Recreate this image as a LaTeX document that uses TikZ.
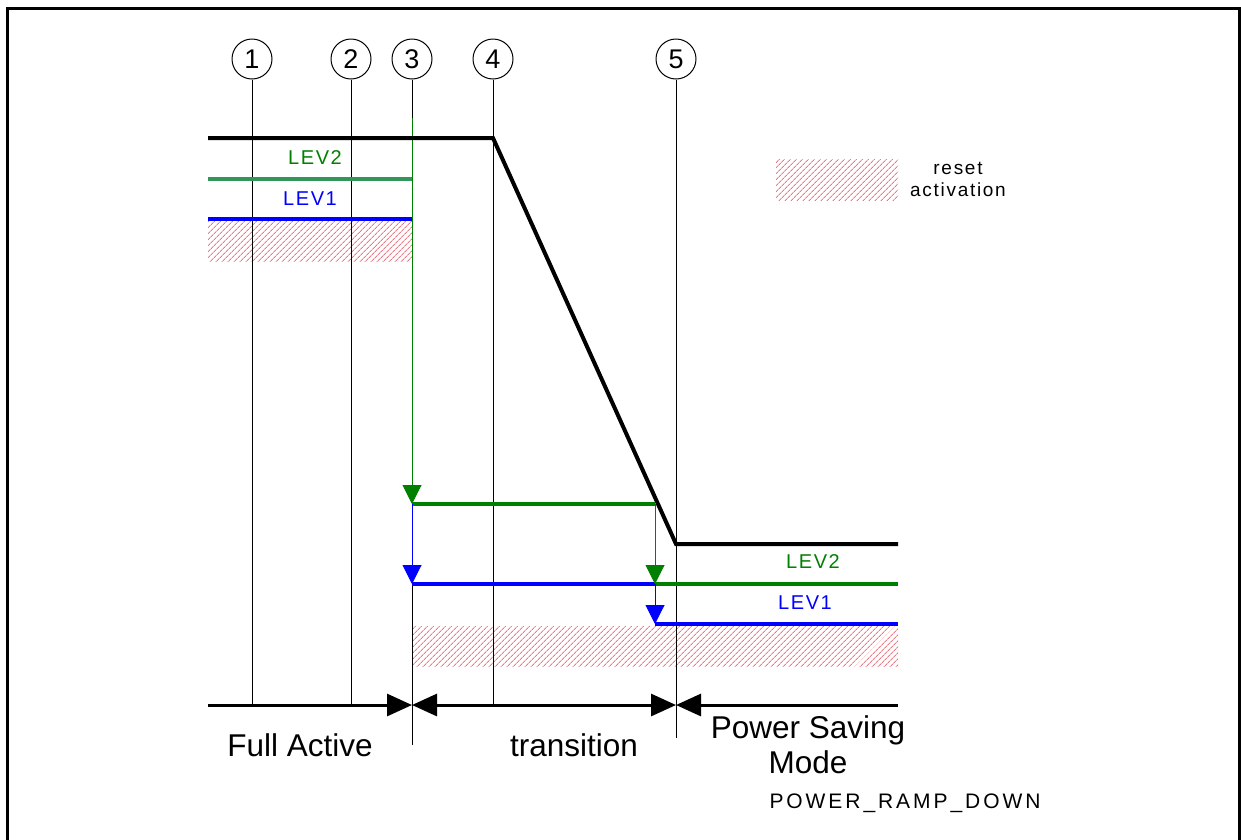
\documentclass[tikz,border=0pt]{standalone}
\usepackage{fontspec}
\setmainfont{Liberation Sans}
\newfontfamily\spacedA[LetterSpace=8]{Liberation Sans}
\newfontfamily\spacedB[LetterSpace=9]{Liberation Sans}
\newfontfamily\spacedC[LetterSpace=14]{Liberation Sans}
\usetikzlibrary{arrows.meta,patterns.meta}
\definecolor{levgreen}{RGB}{0,128,0}
\definecolor{levgreenA}{RGB}{50,150,90}
\definecolor{levblue}{RGB}{0,0,255}
\definecolor{hatchred}{RGB}{240,120,130}
\begin{document}
\begin{tikzpicture}[x=1pt,y=-1pt,
  num/.style={circle,draw,line width=1pt,minimum size=40pt,inner sep=0pt,font=\fontsize{27}{30}\selectfont},
  vline/.style={line width=1pt},
  powerline/.style={line width=4pt,line join=miter},
  levline/.style={line width=3.5pt},
  hatchbox/.style={pattern={Lines[angle=45,distance=4pt,line width=1pt]},pattern color=hatchred},
  vtip/.style={-{Triangle[length=19pt,width=19pt]}},
  axisline/.style={line width=3pt},
  big/.style={font=\fontsize{31.5}{36}\selectfont},
  levlabel/.style={font=\spacedA\fontsize{20}{24}\selectfont},
]
\useasboundingbox (0,0) rectangle (1241,839);
\clip (0,0) rectangle (1241,839);
% frame
\draw[line width=3pt] (7,850) -- (7,8) -- (1239.5,8) -- (1239.5,850);

% hatched regions
\fill[hatchbox] (208,221) rectangle (412,261);
\fill[hatchbox] (412,626) rectangle (898,666);
\fill[hatchbox] (776,159) rectangle (898,200);

% numbered markers
\node[num] (c1) at (252,59) {1};
\node[num] (c2) at (351,59) {2};
\node[num] (c3) at (412,59) {3};
\node[num] (c4) at (493,59) {4};
\node[num] (c5) at (676,59) {5};

% axis coordinates
\coordinate (ax0) at (208,705);
\coordinate (axE) at (898,705);
\coordinate (a3) at (412,705);
\coordinate (a5) at (676,705);
\coordinate (e3) at (412,745);
\coordinate (e5) at (676,738);

% vertical time lines
\draw[vline] (c1.south) -- (c1.south |- ax0);
\draw[vline] (c2.south) -- (c2.south |- ax0);
\draw[vline] (c3.south) -- (e3);
\draw[vline] (c4.south) -- (c4.south |- ax0);
\draw[vline] (c5.south) -- (e5);

% level coordinates
\coordinate (g0) at (208,179);
\coordinate (g1) at (412,179);
\coordinate (b0) at (208,219);
\coordinate (b1) at (412,219);
\coordinate (gs) at (412,118);
\coordinate (gA) at (412,504);
\coordinate (gB) at (655,504);
\coordinate (bA) at (412,584);
\coordinate (gC) at (655,584);
\coordinate (gD) at (898,584);
\coordinate (bC) at (655,624);
\coordinate (bD) at (898,624);

% upper levels
\draw[levline,levgreenA] (g0) -- (g1);
\draw[levline,levblue] (b0) -- (b1);

% transitions
\draw[vline,levgreen,vtip] (gs) -- (gA);
\draw[levline,levgreen] (gA) -- (gB);
\draw[vline,levblue,vtip] (gA) -- (bA);
\draw[levline,levblue] (bA) -- (gC);
\draw[vline,levgreen,vtip] (gB) -- (gC);
\draw[levline,levgreen] (gC) -- (gD);
\draw[vline,levblue,vtip] (gC) -- (bC);
\draw[levline,levblue] (bC) -- (bD);

% supply line
\coordinate (p0) at (208,138);
\coordinate (p1) at (493,138);
\coordinate (p2) at (676,544);
\coordinate (p3) at (898,544);
\draw[powerline] (p0) -- (p1) -- (p2) -- (p3);

% level labels
\node[levlabel,text=levgreen] (l2a) at (315,158) {LEV2};
\node[levlabel,text=levblue] (l1a) at (310,199) {LEV1};
\node[levlabel,text=levgreen] (l2b) at (813,562) {LEV2};
\node[levlabel,text=levblue] (l1b) at (805,603) {LEV1};

% legend
\node[align=center,font=\spacedB\fontsize{19}{22}\selectfont] (leg) at (958,179) {reset\\activation};

% time axis
\draw[axisline,-{Triangle[length=25pt,width=22pt]}] (ax0) -- (a3);
\draw[axisline,{Triangle[length=25pt,width=22pt]}-{Triangle[length=25pt,width=22pt]}] (a3) -- (a5);
\draw[axisline,-{Triangle[length=25pt,width=22pt]}] (axE) -- (a5);

% phase labels
\node[big] (fa) at (300,745) {Full Active};
\node[big] (tr) at (574,745) {transition};
\node[big,align=center,font=\fontsize{31.5}{35}\selectfont] (ps) at (808,745) {Power Saving\\Mode};
\node[font=\spacedC\fontsize{21}{24}\selectfont] (prd) at (905,803) {POWER\_RAMP\_DOWN};
\end{tikzpicture}
\end{document}
